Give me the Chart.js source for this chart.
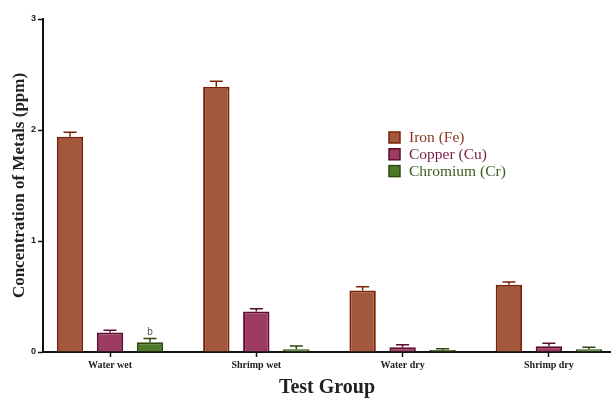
<!DOCTYPE html>
<html>
<head>
<meta charset="utf-8">
<script src="https://cdn.jsdelivr.net/npm/chart.js@4.4.1/dist/chart.umd.min.js"></script>
<style>
  html, body { margin: 0; padding: 0; background: #ffffff; overflow: hidden; }
  #wrap { width: 611px; height: 400px; }
</style>
</head>
<body>
<div id="wrap"><canvas id="chart" width="611" height="400"></canvas></div>
<script>
// Test groups along the x axis
const groups = ['Water wet', 'Shrimp wet', 'Water dry', 'Shrimp dry'];

// Mean metal concentrations (ppm)
const ironMean     = [1.94, 2.39, 0.555, 0.605];
const copperMean   = [0.175, 0.365, 0.043, 0.052];
const chromiumMean = [0.088, 0.025, 0.018, 0.025];

// Standard deviations (upper error bars)
const ironErr     = [0.04, 0.05, 0.032, 0.025];
const copperErr   = [0.02, 0.025, 0.023, 0.026];
const chromiumErr = [0.033, 0.029, 0.012, 0.017];

// Significance letters placed above individual bars
const sigLetters = [{ dataset: 2, index: 0, text: 'b' }];

const yTicks = [0, 1, 2, 3];

const serif = "'Liberation Serif', 'Times New Roman', serif";
const sans = "'Liberation Sans', Arial, sans-serif";

const datasets = [
  { label: 'Iron (Fe)', data: ironMean, err: ironErr,
    backgroundColor: '#a3573b', borderColor: '#7a2208', textColor: '#8a361b' },
  { label: 'Copper (Cu)', data: copperMean, err: copperErr,
    backgroundColor: '#9e3b60', borderColor: '#5c0d2f', textColor: '#7a2048' },
  { label: 'Chromium (Cr)', data: chromiumMean, err: chromiumErr,
    backgroundColor: '#4f7a2a', borderColor: '#2c4a0e', textColor: '#3d5a1e' }
].map(d => Object.assign(d, {
  borderWidth: 2,
  borderSkipped: 'bottom',
  barPercentage: 0.66,
  categoryPercentage: 0.82
}));

// Upper error bars with caps, plus significance letters
const errorBars = {
  id: 'errorBars',
  afterDatasetsDraw(chart) {
    const ctx = chart.ctx;
    const y = chart.scales.y;
    chart.data.datasets.forEach((ds, di) => {
      const meta = chart.getDatasetMeta(di);
      meta.data.forEach((bar, i) => {
        const top = y.getPixelForValue(ds.data[i]);
        const end = y.getPixelForValue(ds.data[i] + ds.err[i]);
        ctx.save();
        ctx.strokeStyle = ds.borderColor;
        ctx.lineWidth = 1.5;
        ctx.beginPath();
        ctx.moveTo(bar.x, top);
        ctx.lineTo(bar.x, end);
        ctx.moveTo(bar.x - 6.5, end);
        ctx.lineTo(bar.x + 6.5, end);
        ctx.stroke();
        ctx.restore();
      });
    });
    sigLetters.forEach(s => {
      const ds = chart.data.datasets[s.dataset];
      const bar = chart.getDatasetMeta(s.dataset).data[s.index];
      const end = y.getPixelForValue(ds.data[s.index] + ds.err[s.index]);
      ctx.save();
      ctx.fillStyle = '#555555';
      ctx.font = '10px ' + sans;
      ctx.textAlign = 'center';
      ctx.textBaseline = 'bottom';
      ctx.fillText(s.text, bar.x, end - 1);
      ctx.restore();
    });
  }
};

// Legend block inside the plot area
const boxLegend = {
  id: 'boxLegend',
  afterDraw(chart) {
    const ctx = chart.ctx;
    const x0 = 389, y0 = 132, row = 16.8, box = 11;
    chart.data.datasets.forEach((ds, i) => {
      const yy = y0 + i * row;
      ctx.save();
      ctx.fillStyle = ds.backgroundColor;
      ctx.fillRect(x0, yy, box, box);
      ctx.strokeStyle = ds.borderColor;
      ctx.lineWidth = 1.5;
      ctx.strokeRect(x0, yy, box, box);
      ctx.fillStyle = ds.textColor;
      ctx.font = '15.5px ' + serif;
      ctx.textBaseline = 'middle';
      ctx.textAlign = 'left';
      ctx.fillText(ds.label, x0 + 20, yy + box / 2 + 0.5);
      ctx.restore();
    });
  }
};

new Chart(document.getElementById('chart'), {
  type: 'bar',
  data: { labels: groups, datasets },
  plugins: [errorBars, boxLegend],
  options: {
    responsive: false,
    animation: false,
    layout: { padding: { top: 19, right: 0, left: 0, bottom: 0 } },
    plugins: { legend: { display: false }, tooltip: { enabled: false } },
    scales: {
      x: {
        offset: true,
        afterBuildTicks(s) {
          // first group centre ~67px right of the y axis, groups ~146px apart
          s._startValue = -0.458;
          s._valueRange = 568 / 146.3;
        },
        afterFit(s) { s.height = 48; },
        grid: {
          offset: false,
          drawOnChartArea: false,
          drawTicks: true,
          tickLength: 5,
          tickWidth: 1.5,
          tickColor: '#111111'
        },
        border: { display: true, color: '#111111', width: 2 },
        ticks: {
          color: '#222222',
          padding: 2,
          maxRotation: 0,
          font: { family: serif, size: 10, weight: 'bold' }
        },
        title: {
          display: true,
          text: 'Test Group',
          color: '#222222',
          padding: { top: 0, bottom: 0 },
          font: { family: serif, size: 20, weight: 'bold' }
        }
      },
      y: {
        min: 0,
        max: 3,
        afterFit(s) { s.width = 43; },
        afterBuildTicks(s) { s.ticks = yTicks.map(v => ({ value: v })); },
        grid: {
          drawOnChartArea: false,
          drawTicks: true,
          tickLength: 5,
          tickWidth: 1.5,
          tickColor: '#111111'
        },
        border: { display: true, color: '#111111', width: 2 },
        ticks: {
          color: '#222222',
          padding: 2,
          font: { family: sans, size: 9, weight: 'bold' }
        },
        title: {
          display: true,
          text: 'Concentration of Metals (ppm)',
          color: '#222222',
          padding: { top: 9, bottom: 0 },
          font: { family: serif, size: 17, weight: 'bold' }
        }
      }
    }
  }
});
</script>
</body>
</html>
